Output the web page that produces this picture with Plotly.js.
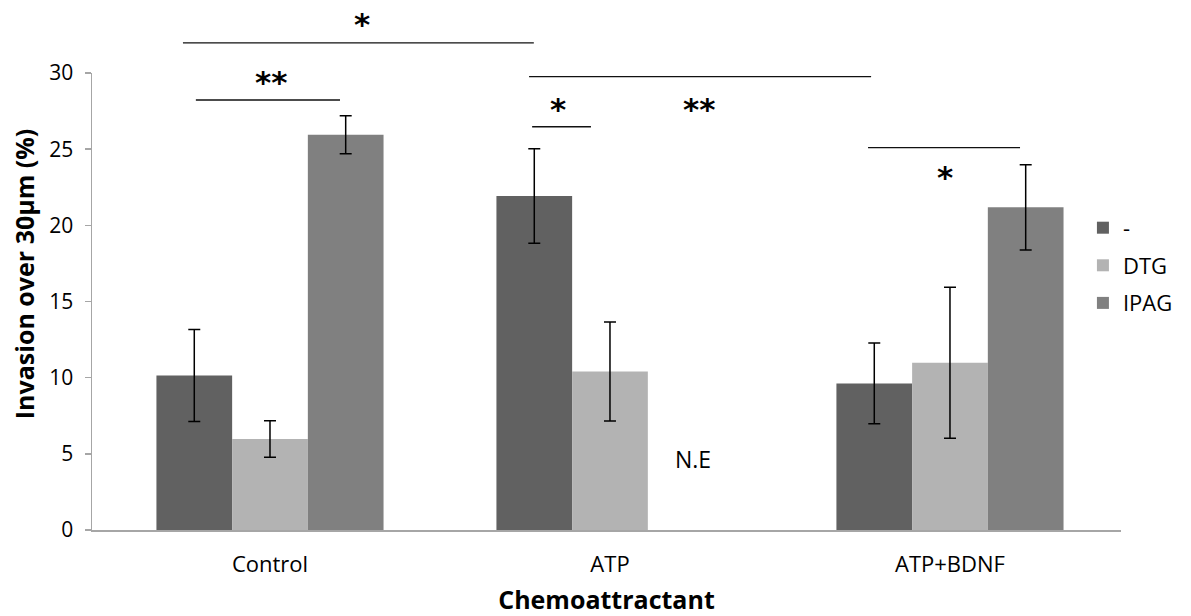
<!DOCTYPE html>
<html>
<head>
<meta charset="utf-8">
<script src="https://cdn.plot.ly/plotly-3.0.1.min.js"></script>
<style>html,body{margin:0;padding:0;background:#fff;}#chart{width:1191px;height:616px;}</style>
</head>
<body>
<div id="chart"></div>
<script>
// ---- data ----
var categories = ["Control", "ATP", "ATP+BDNF"];
var seriesNames = ["-", "DTG", "IPAG"];
var valuesNone = [10.15, 21.93, 9.62];
var errNone    = [3.02, 3.1, 2.65];
var valuesDTG  = [5.97, 10.4, 10.98];
var errDTG     = [1.2, 3.25, 4.95];
var valuesIPAG = [25.95, null, 21.18];
var errIPAG    = [1.25, null, 2.8];
var yTicks = [0, 5, 10, 15, 20, 25, 30];
var xTitle = "Chemoattractant";
var yTitle = "Invasion over 30µm (%)";

// significance brackets: from/to in category units, height in paper units
var brackets = [
  {x0: -0.256, x1: 0.776, y: 1.066, label: "*",  lx: 0.271, ly: 1.108},
  {x0: -0.218, x1: 0.206, y: 0.941, label: "**", lx: 0.003, ly: 0.980},
  {x0: 0.762,  x1: 1.768, y: 0.992, label: "**", lx: 1.262, ly: 0.921},
  {x0: 0.771,  x1: 0.944, y: 0.8825, label: "*", lx: 0.846, ly: 0.921},
  {x0: 1.759,  x1: 2.206, y: 0.8366, label: "*", lx: 1.985, ly: 0.772}
];
var noteText = "N.E";
var noteX = 1.244, noteY = 0.155;

var colors = ["#616161", "#b3b3b3", "#808080"];
var vals = [valuesNone, valuesDTG, valuesIPAG];
var errs = [errNone, errDTG, errIPAG];

var traces = seriesNames.map(function(name, i) {
  return {
    type: "bar",
    name: name,
    x: categories,
    y: vals[i],
    legendgroup: "g" + i,
    marker: {color: colors[i], line: {width: 0}},
    error_y: {type: "data", array: errs[i], visible: true, color: "#000", thickness: 1.5, width: 6}
  };
});

var shapes = brackets.map(function(b) {
  return {type: "line", xref: "x", yref: "paper", x0: b.x0, x1: b.x1, y0: b.y, y1: b.y,
          line: {color: "#111", width: 1.4}};
});
var annotations = brackets.map(function(b) {
  return {xref: "x", yref: "paper", x: b.lx, y: b.ly, text: "<b>" + b.label + "</b>", showarrow: false,
          font: {family: "DejaVu Sans", size: 31, color: "#000"}, xanchor: "center", yanchor: "middle"};
});
annotations.push({xref: "x", yref: "paper", x: noteX, y: noteY, text: noteText, showarrow: false,
  font: {family: "Open Sans", size: 23, color: "#000"}, xanchor: "center", yanchor: "middle"});
// y-axis title (placed as rotated text, offset upward as in the original)
annotations.push({xref: "paper", yref: "paper", x: -0.066, y: 0.56, text: "<b>" + yTitle + "</b>",
  textangle: -90, showarrow: false, xanchor: "center", yanchor: "middle",
  font: {family: "Open Sans", size: 25, color: "#000"}});

var layout = {
  width: 1191, height: 616,
  margin: {l: 92, r: 70, t: 73, b: 86},
  paper_bgcolor: "#fff", plot_bgcolor: "#fff",
  barmode: "group", bargap: 0.332, bargroupgap: 0,
  font: {family: "Open Sans", size: 20, color: "#000"},
  xaxis: {
    type: "category",
    range: [-0.5235, 2.503],
    showline: true, linecolor: "#a6a6a6", linewidth: 1.5,
    ticks: "", showgrid: false, zeroline: false,
    ticklabelstandoff: 14,
    tickfont: {family: "Open Sans", size: 22, color: "#000"},
    title: {text: "<b>" + xTitle + "</b>", font: {family: "Open Sans", size: 25, color: "#000"}, standoff: 16}
  },
  yaxis: {
    range: [0, 30], tickvals: yTicks, ticktext: yTicks.map(String),
    showline: true, linecolor: "#a6a6a6", linewidth: 1.5,
    ticks: "outside", ticklen: 6, tickcolor: "#a6a6a6", tickwidth: 1.5,
    showgrid: false, zeroline: false,
    ticklabelstandoff: 7,
    tickfont: {family: "Open Sans", size: 21, color: "#000"}
  },
  showlegend: true,
  legend: {x: 0.963, xanchor: "left", y: 0.579, yanchor: "middle", traceorder: "grouped",
           tracegroupgap: 6, font: {family: "Open Sans", size: 22, color: "#000"}, bgcolor: "rgba(0,0,0,0)"},
  shapes: shapes,
  annotations: annotations
};

Plotly.newPlot("chart", traces, layout, {displayModeBar: false, staticPlot: true});
</script>
</body>
</html>
